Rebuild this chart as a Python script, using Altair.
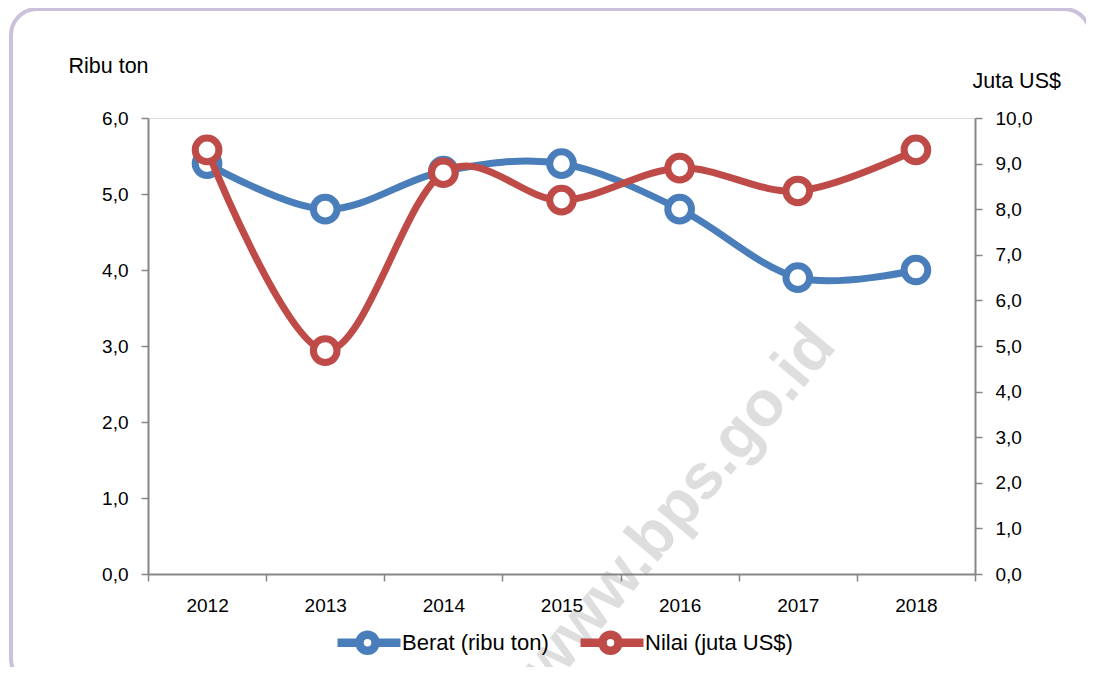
import altair as alt
import pandas as pd

years = ["2012", "2013", "2014", "2015", "2016", "2017", "2018"]
berat = [5.4, 4.8, 5.3, 5.4, 4.8, 3.9, 4.0]
nilai = [9.3, 4.9, 8.8, 8.2, 8.9, 8.4, 9.3]
series_names = ["Berat (ribu ton)", "Nilai (juta US$)"]
series_colors = ["#4A7EBB", "#BE4B48"]
left_ticks = [0, 1, 2, 3, 4, 5, 6]
right_ticks = [0, 1, 2, 3, 4, 5, 6, 7, 8, 9, 10]
left_title = "Ribu ton"
right_title = "Juta US$"
watermark = "www.bps.go.id"

FONT = "Liberation Sans"
W, H = 827, 456

df = pd.DataFrame(
    {"year": years * 2,
     "value": berat + nilai,
     "series": [series_names[0]] * len(years) + [series_names[1]] * len(years)}
)

legend_path = ("M-1,0L-0.28,0M0.28,0L1.1,0"
               "M0.267,0A0.267,0.267 0 1,1 -0.267,0A0.267,0.267 0 1,1 0.267,0Z")

color = alt.Color(
    "series:N",
    scale=alt.Scale(domain=series_names, range=series_colors),
    legend=alt.Legend(
        title=None, orient="none", direction="horizontal",
        legendX=185, legendY=490,
        symbolType=legend_path, symbolSize=3600, symbolStrokeWidth=8.5,
        symbolFillColor="white",
        labelFont=FONT, labelFontSize=22, labelColor="black",
        labelOffset=0, columnPadding=14,
    ),
)

x_enc = alt.X(
    "year:N", sort=years,
    scale=alt.Scale(paddingInner=0, paddingOuter=0),
    axis=alt.Axis(title=None, labelAngle=0, tickBand="extent", tickSize=7,
                  labelPadding=15, labelFontSize=19, labelFont=FONT,
                  labelColor="black", domainColor="#868686", domainWidth=2,
                  tickColor="#868686", tickWidth=1.5, grid=False),
)

label_expr = "replace(format(datum.value, '.1f'), '.', ',')"

left_axis = alt.Axis(
    orient="left", values=left_ticks, labelExpr=label_expr, grid=False,
    tickSize=7, labelPadding=13, labelFontSize=19, labelFont=FONT,
    labelColor="black", domainColor="#868686", domainWidth=2,
    tickColor="#868686", tickWidth=1.5,
    title=left_title, titleAngle=0, titleX=-80, titleY=-52,
    titleAlign="left", titleBaseline="middle", titleFont=FONT,
    titleFontSize=21.5, titleFontWeight="normal", titleColor="black",
)
right_axis = alt.Axis(
    orient="right", values=right_ticks, labelExpr=label_expr, grid=False,
    tickSize=7, labelPadding=13, labelFontSize=19, labelFont=FONT,
    labelColor="black", domainColor="#868686", domainWidth=2,
    tickColor="#868686", tickWidth=1.5,
    title=right_title, titleAngle=0, titleX=-3, titleY=-37,
    titleAlign="left", titleBaseline="middle", titleFont=FONT,
    titleFontSize=21.5, titleFontWeight="normal", titleColor="black",
)

base = alt.Chart(df)

blue_src = base.transform_filter(alt.datum.series == series_names[0])
red_src = base.transform_filter(alt.datum.series == series_names[1])

y_left = alt.Y("value:Q", scale=alt.Scale(domain=[0, 6], nice=False, zero=True), axis=left_axis)
y_right = alt.Y("value:Q", scale=alt.Scale(domain=[0, 10], nice=False, zero=True), axis=right_axis)

blue = alt.layer(
    blue_src.mark_line(interpolate="cardinal", strokeWidth=7).encode(x=x_enc, y=y_left, color=color),
    blue_src.mark_point(shape="circle", filled=False, fill="white", fillOpacity=1,
                        strokeWidth=7, size=560, opacity=1).encode(x=x_enc, y=y_left, color=color),
)
red = alt.layer(
    red_src.mark_line(interpolate="cardinal", strokeWidth=7).encode(x=x_enc, y=y_right, color=color),
    red_src.mark_point(shape="circle", filled=False, fill="white", fillOpacity=1,
                       strokeWidth=7, size=560, opacity=1).encode(x=x_enc, y=y_right, color=color),
)

deco_df = pd.DataFrame({"t": [watermark]})
border = alt.Chart(deco_df).mark_rect(
    fill=None, stroke="#CCC1DA", strokeWidth=4, cornerRadius=26, clip=False
).encode(x=alt.value(-137), x2=alt.value(942), y=alt.value(-109), y2=alt.value(567))

wm = alt.Chart(deco_df).mark_text(
    font=FONT, fontWeight="bold", fontSize=64, angle=310, color="#808080",
    opacity=0.25, align="center", baseline="middle", clip=False
).encode(x=alt.value(531), y=alt.value(389), text="t:N")

chart = alt.layer(border, wm, blue, red).resolve_scale(y="independent").properties(
    width=W, height=H,
    autosize=alt.AutoSizeParams(type="none"),
    padding={"left": 140, "top": 110, "right": 111, "bottom": 93},
).configure_view(fill="#E4DFEC", stroke=None).configure(background="white")

chart.save("out.html", embed_options={"renderer": "svg", "actions": False})
